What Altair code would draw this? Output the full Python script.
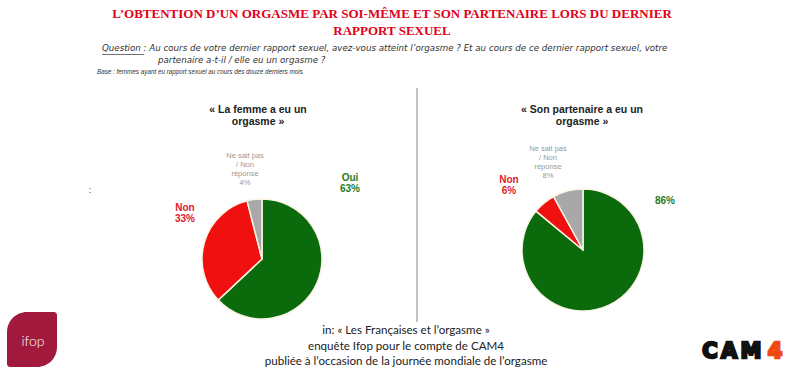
import altair as alt
import pandas as pd

# ---- data ----
categories = ["Oui", "Non", "Ne sait pas / Non réponse"]
label_names = ["Oui", "Non", "Ne sait pas\n/ Non\nréponse"]
femme_values = [63, 33, 4]
partenaire_values = [86, 6, 8]
pie_titles = ["« La femme a eu un\norgasme »", "« Son partenaire a eu un\norgasme »"]

title_text = "L’OBTENTION D’UN ORGASME PAR SOI-MÊME ET SON PARTENAIRE LORS DU DERNIER\nRAPPORT SEXUEL"
question_1 = "Question : Au cours de votre dernier rapport sexuel, avez-vous atteint l’orgasme ? Et au cours de ce dernier rapport sexuel, votre"
question_2 = "partenaire a-t-il / elle eu un orgasme ?"
base_text = "Base :  femmes ayant eu rapport sexuel au cours des douze derniers mois"
source_text = "in: « Les Françaises et l’orgasme »\nenquête Ifop pour le compte de CAM4\npubliée à l’occasion de la journée mondiale de l’orgasme"

GREEN = "#0b6a0c"
RED = "#f0100f"
GRAY = "#a8a8a8"

W, H = 800, 376
dummy = pd.DataFrame({"d": [0]})


def txt(text, x, y, **kw):
    return alt.Chart(dummy).mark_text(lineBreak="\n", **kw).encode(
        x=alt.value(x), y=alt.value(y), text=alt.value(text)
    )


def pie(values, cx, cy, r):
    df = pd.DataFrame({"cat": categories, "val": values, "idx": list(range(len(values)))})
    return alt.Chart(df).mark_arc(radius=r, stroke="#fbf3e4", strokeWidth=1.5).encode(
        theta=alt.Theta("val:Q", stack=True),
        color=alt.Color("cat:N", scale=alt.Scale(domain=categories, range=[GREEN, RED, GRAY]), legend=None),
        order=alt.Order("idx:Q", sort="ascending"),
        x=alt.value(cx),
        y=alt.value(cy),
    )


layers = []
# header
layers.append(txt(title_text, 392, 8, font="Liberation Serif", fontSize=13, fontWeight="bold",
                  color="#e2001a", align="center", baseline="top", lineHeight=17))
layers.append(txt(question_1, 102, 44, font="DejaVu Sans", fontSize=8.7, fontStyle="italic",
                  color="#333333", align="left", baseline="top"))
layers.append(alt.Chart(dummy).mark_rule(color="#333333", strokeWidth=0.7).encode(
    x=alt.value(102), x2=alt.value(144), y=alt.value(54.5)))
layers.append(txt(question_2, 158, 56, font="DejaVu Sans", fontSize=8.7, fontStyle="italic",
                  color="#333333", align="left", baseline="top"))
layers.append(txt(base_text, 97, 69, font="Liberation Sans", fontSize=6.3, fontStyle="italic",
                  color="#333333", align="left", baseline="top"))

# divider
layers.append(alt.Chart(dummy).mark_rule(color="#b0b0b0", strokeWidth=1.5).encode(
    x=alt.value(417), y=alt.value(88), y2=alt.value(322)))

# pies
layers.append(pie(femme_values, 262, 259, 60))
layers.append(pie(partenaire_values, 583, 250, 61))

# pie titles
layers.append(txt(pie_titles[0], 258, 105, font="Liberation Sans", fontSize=10.5, fontWeight="bold",
                  color="#222222", align="center", baseline="top", lineHeight=12))
layers.append(txt(pie_titles[1], 582, 105, font="Liberation Sans", fontSize=10.5, fontWeight="bold",
                  color="#222222", align="center", baseline="top", lineHeight=12))

# left pie labels
layers.append(txt(f"{label_names[0]}\n{femme_values[0]}%", 350, 173, font="Liberation Sans", fontSize=10,
                  fontWeight="bold", color="#1f7a1f", align="center", baseline="top", lineHeight=11))
layers.append(txt(f"{label_names[1]}\n{femme_values[1]}%", 185, 203, font="Liberation Sans", fontSize=10,
                  fontWeight="bold", color="#e0202a", align="center", baseline="top", lineHeight=11))
layers.append(txt(f"{label_names[2]}\n{femme_values[2]}%", 245, 152, font="Liberation Sans", fontSize=7.5,
                  color="#999999", align="center", baseline="top", lineHeight=9))

# right pie labels
layers.append(txt(f"{partenaire_values[0]}%", 665, 196, font="Liberation Sans", fontSize=10,
                  fontWeight="bold", color="#1f7a1f", align="center", baseline="top"))
layers.append(txt(f"{label_names[1]}\n{partenaire_values[1]}%", 509, 175, font="Liberation Sans", fontSize=10,
                  fontWeight="bold", color="#e0202a", align="center", baseline="top", lineHeight=11))
layers.append(txt(f"{label_names[2]}\n{partenaire_values[2]}%", 548, 145, font="Liberation Sans", fontSize=7.5,
                  color="#999999", align="center", baseline="top", lineHeight=9))

# stray colon
layers.append(txt(":", 90, 186, font="Liberation Sans", fontSize=9, color="#333333",
                  align="center", baseline="top"))

# source text
layers.append(txt(source_text, 406, 325, font="Lato", fontSize=11.6, color="#222222",
                  align="center", baseline="top", lineHeight=15.5))

# ifop logo
layers.append(alt.Chart(dummy).mark_rect(color="#a11a3d", cornerRadiusTopLeft=20,
                                         cornerRadiusBottomRight=20, cornerRadiusTopRight=3,
                                         cornerRadiusBottomLeft=3).encode(
    x=alt.value(7), x2=alt.value(57), y=alt.value(312), y2=alt.value(367)))
layers.append(txt("ifop", 33, 342, font="Lato", fontSize=14, fontWeight=300, color="white",
                  align="center", baseline="middle"))

# CAM4 logo
for ch, xx, col in [("C", 710, "#111111"), ("A", 729, "#111111"), ("M", 751, "#111111"), ("4", 775, "#f04a12")]:
    layers.append(txt(ch, xx, 352, font="DejaVu Sans", fontSize=21, fontWeight="bold", color=col,
                      stroke=col, strokeWidth=2.4, align="center", baseline="middle"))

chart = alt.layer(*layers).properties(
    width=W, height=H, autosize=alt.AutoSizeParams(type="none"), padding=0, background="white"
).configure_view(stroke=None)

chart.save("out.html", embed_options={"renderer": "svg", "actions": False})
